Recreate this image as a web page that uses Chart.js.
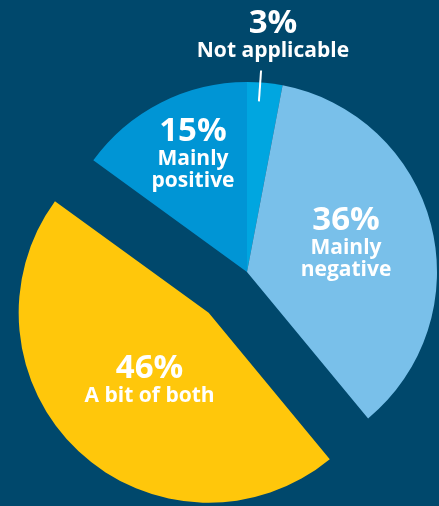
<!DOCTYPE html>
<html>
<head>
<meta charset="utf-8">
<script src="https://cdn.jsdelivr.net/npm/chart.js@4/dist/chart.umd.min.js"></script>
<style>
  html, body { margin: 0; padding: 0; background: #00486c; }
  #wrap { width: 439px; height: 506px; }
  canvas { display: block; }
</style>
</head>
<body>
<div id="wrap"><canvas id="pie" width="439" height="506"></canvas></div>
<script>
// Survey answers, clockwise from 12 o'clock
const categories = ['Not applicable', 'Mainly negative', 'A bit of both', 'Mainly positive'];
const shares = [3, 36, 46, 15];
const labelLines = [['Not applicable'], ['Mainly', 'negative'], ['A bit of both'], ['Mainly', 'positive']];
const sliceColours = ['#00a6e0', '#79c0ea', '#ffc70b', '#0095d5'];
const explodeBy = [0, 0, 56, 0];

// Where each label's percentage line sits: r = share of the radius, da = degrees off the slice middle
const labelPlacement = [
  { r: 1.265, da: 0.8 },
  { r: 0.566, da: -8.6 },
  { r: 0.461, da: -0.8 },
  { r: 0.746, da: 4.6 }
];
// Pointer from the thin slice out to its label
const leader = { slice: 0, along: 0.37, r0: 0.9, r1: 1.063 };

const FONT = '"Open Sans", "DejaVu Sans", sans-serif';

// Pull chosen slices out from the centre without enlarging them
const explodePlugin = {
  id: 'explodeSlices',
  afterDatasetUpdate(chart, args) {
    const meta = chart.getDatasetMeta(args.index);
    meta.data.forEach((arc, i) => {
      const d = explodeBy[i];
      if (!d) return;
      const mid = (arc.startAngle + arc.endAngle) / 2;
      arc.x += Math.cos(mid) * d;
      arc.y += Math.sin(mid) * d;
    });
  }
};

const labelPlugin = {
  id: 'sliceLabels',
  afterDatasetsDraw(chart) {
    const ctx = chart.ctx;
    const meta = chart.getDatasetMeta(0);
    ctx.save();
    ctx.fillStyle = '#ffffff';
    ctx.strokeStyle = '#ffffff';
    ctx.textAlign = 'center';
    ctx.textBaseline = 'alphabetic';
    meta.data.forEach((arc, i) => {
      const p = labelPlacement[i];
      const R = arc.outerRadius;
      const a = (arc.startAngle + arc.endAngle) / 2 + p.da * Math.PI / 180;
      const x = arc.x + Math.cos(a) * R * p.r;
      const y = arc.y + Math.sin(a) * R * p.r;
      ctx.font = 'bold 33px ' + FONT;
      ctx.fillText(shares[i] + '%', x, y);
      ctx.font = 'bold 21px ' + FONT;
      labelLines[i].forEach((t, k) => ctx.fillText(t, x, y + 24 + 22 * k));
    });
    const arc = meta.data[leader.slice];
    const la = arc.startAngle + (arc.endAngle - arc.startAngle) * leader.along;
    const R = arc.outerRadius;
    ctx.lineWidth = 2;
    ctx.beginPath();
    ctx.moveTo(arc.x + Math.cos(la) * R * leader.r0, arc.y + Math.sin(la) * R * leader.r0);
    ctx.lineTo(arc.x + Math.cos(la) * R * leader.r1, arc.y + Math.sin(la) * R * leader.r1);
    ctx.stroke();
    ctx.restore();
  }
};

new Chart(document.getElementById('pie'), {
  type: 'pie',
  data: {
    labels: categories,
    datasets: [{
      data: shares,
      backgroundColor: sliceColours,
      borderWidth: 0
    }]
  },
  options: {
    responsive: false,
    animation: false,
    events: [],
    radius: 190,
    layout: { padding: { left: 55, right: 0, top: 38, bottom: 0 } },
    plugins: {
      legend: { display: false },
      tooltip: { enabled: false }
    }
  },
  plugins: [explodePlugin, labelPlugin]
});
</script>
</body>
</html>
